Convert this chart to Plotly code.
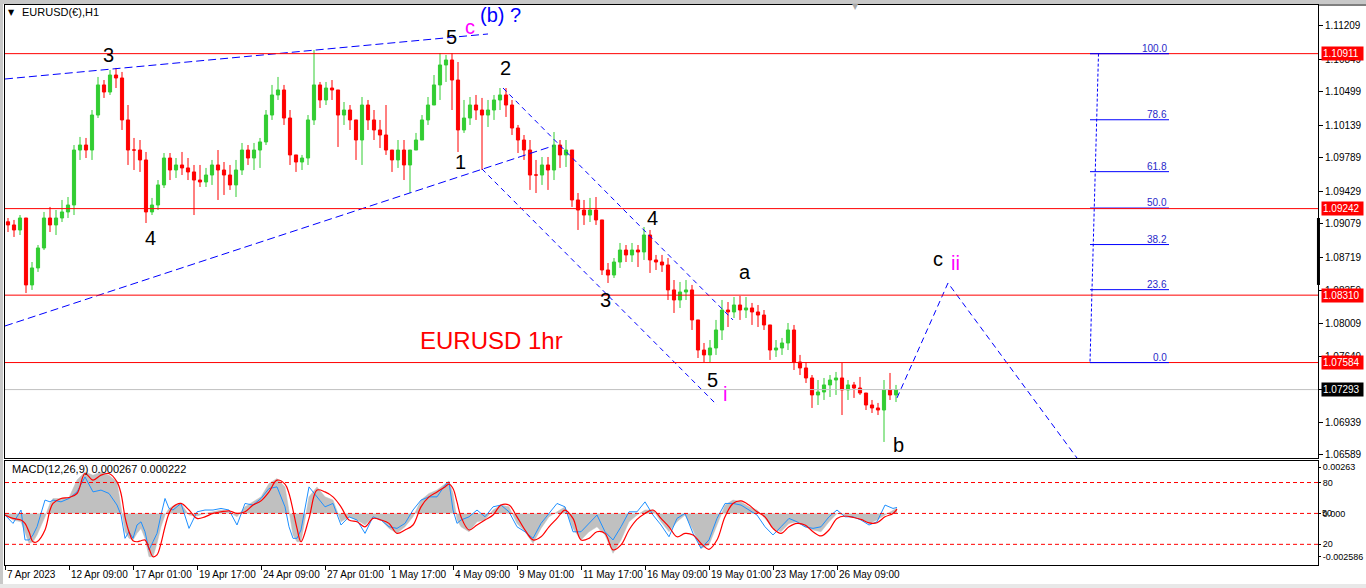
import plotly.graph_objects as go

# --- price data: one candle per 6 H1 bars, x = hour index from 7 Apr 2023 ---
BAR_STEP = 6
first_open = 1.09100

highs = [
    1.09141, 1.09120, 1.09173, 1.09141, 1.08667, 1.08850, 1.09206, 1.09260, 1.09227, 1.09335,
    1.09367, 1.09927, 1.10014, 1.10003, 1.10304, 1.10660, 1.10627, 1.10735, 1.10757, 1.10714,
    1.10358, 1.10003, 1.09981, 1.09852, 1.09357, 1.09550, 1.09841, 1.09841, 1.09787, 1.09852,
    1.09787, 1.09712, 1.09712, 1.09680, 1.09766, 1.09873, 1.09744, 1.09712, 1.09766, 1.09949,
    1.09927, 1.09949, 1.10003, 1.10304, 1.10574, 1.10660, 1.10574, 1.10304, 1.09820, 1.09820,
    1.10250, 1.10950, 1.10606, 1.10606, 1.10627, 1.10466, 1.10390, 1.10358, 1.10197, 1.10444,
    1.10412, 1.10304, 1.10197, 1.10358, 1.09873, 1.09981, 1.09981, 1.09873, 1.10057, 1.10250,
    1.10444, 1.10681, 1.10918, 1.10897, 1.10918, 1.10821, 1.10412, 1.10444, 1.10466, 1.10434,
    1.10412, 1.10466, 1.10541, 1.10541, 1.10412, 1.10143, 1.10035, 1.09981, 1.09766, 1.09798,
    1.09798, 1.10067, 1.09981, 1.09981, 1.09873, 1.09410, 1.09335, 1.09357, 1.09367, 1.09120,
    1.08656, 1.08710, 1.08872, 1.08850, 1.08872, 1.08850, 1.09044, 1.09012, 1.08743, 1.08743,
    1.08710, 1.08473, 1.08452, 1.08473, 1.08420, 1.08043, 1.07795, 1.07827, 1.08043, 1.08258,
    1.08236, 1.08290, 1.08301, 1.08290, 1.08226, 1.08204, 1.08150, 1.07989, 1.07827, 1.07849,
    1.08010, 1.07989, 1.07666, 1.07590, 1.07450, 1.07396, 1.07418, 1.07450, 1.07483, 1.07579,
    1.07396, 1.07375, 1.07429, 1.07256, 1.07181, 1.07149, 1.07396, 1.07472, 1.07343,
]
lows = [
    1.08990, 1.08937, 1.08958, 1.08333, 1.08366, 1.08560, 1.08796, 1.08990, 1.08958, 1.09098,
    1.09141, 1.09173, 1.09766, 1.09787, 1.09766, 1.10218, 1.10434, 1.10466, 1.10541, 1.10089,
    1.09712, 1.09658, 1.09637, 1.09087, 1.09173, 1.09227, 1.09464, 1.09550, 1.09572, 1.09604,
    1.09550, 1.09173, 1.09475, 1.09475, 1.09497, 1.09335, 1.09389, 1.09443, 1.09367, 1.09604,
    1.09712, 1.09658, 1.09680, 1.09927, 1.10197, 1.10412, 1.10143, 1.09712, 1.09637, 1.09658,
    1.09712, 1.10143, 1.10326, 1.10358, 1.10412, 1.09906, 1.10143, 1.10089, 1.09766, 1.09712,
    1.10089, 1.09981, 1.09895, 1.09820, 1.09637, 1.09680, 1.09550, 1.09410, 1.09873, 1.09981,
    1.10143, 1.10358, 1.10412, 1.10606, 1.10304, 1.09852, 1.10057, 1.10143, 1.10197, 1.09658,
    1.10121, 1.10197, 1.10304, 1.10229, 1.10035, 1.09841, 1.09766, 1.09443, 1.09410, 1.09497,
    1.09443, 1.09550, 1.09680, 1.09690, 1.09260, 1.09012, 1.09066, 1.09098, 1.09066, 1.08527,
    1.08441, 1.08495, 1.08603, 1.08667, 1.08667, 1.08613, 1.08689, 1.08549, 1.08581, 1.08560,
    1.08258, 1.08118, 1.08172, 1.08258, 1.07935, 1.07633, 1.07590, 1.07590, 1.07666, 1.07827,
    1.07967, 1.08064, 1.08043, 1.08064, 1.07989, 1.07967, 1.07935, 1.07612, 1.07644, 1.07666,
    1.07719, 1.07504, 1.07450, 1.07364, 1.07095, 1.07127, 1.07181, 1.07213, 1.07235, 1.07019,
    1.07181, 1.07203, 1.07235, 1.07073, 1.07041, 1.07019, 1.06729, 1.07181, 1.07159,
]
closes = [
    1.09066, 1.09012, 1.09141, 1.08420, 1.08603, 1.08818, 1.09141, 1.09066, 1.09141, 1.09206,
    1.09281, 1.09873, 1.09927, 1.09873, 1.10250, 1.10574, 1.10498, 1.10681, 1.10649, 1.10197,
    1.09873, 1.09873, 1.09766, 1.09206, 1.09281, 1.09497, 1.09787, 1.09658, 1.09712, 1.09680,
    1.09637, 1.09550, 1.09529, 1.09604, 1.09712, 1.09658, 1.09604, 1.09497, 1.09658, 1.09873,
    1.09787, 1.09873, 1.09960, 1.10250, 1.10466, 1.10520, 1.10218, 1.09820, 1.09744, 1.09787,
    1.10197, 1.10574, 1.10412, 1.10541, 1.10520, 1.10250, 1.10304, 1.10197, 1.09981, 1.10358,
    1.10197, 1.10089, 1.10035, 1.09873, 1.09766, 1.09873, 1.09712, 1.09873, 1.09981, 1.10197,
    1.10358, 1.10574, 1.10789, 1.10843, 1.10627, 1.10089, 1.10218, 1.10358, 1.10304, 1.10250,
    1.10304, 1.10412, 1.10466, 1.10358, 1.10110, 1.09981, 1.09873, 1.09604, 1.09604, 1.09712,
    1.09658, 1.09927, 1.09820, 1.09873, 1.09335, 1.09227, 1.09173, 1.09227, 1.09120, 1.08581,
    1.08527, 1.08667, 1.08796, 1.08743, 1.08796, 1.08775, 1.08958, 1.08689, 1.08667, 1.08635,
    1.08366, 1.08258, 1.08344, 1.08366, 1.08043, 1.07719, 1.07666, 1.07741, 1.07935, 1.08150,
    1.08129, 1.08204, 1.08150, 1.08172, 1.08129, 1.08096, 1.07989, 1.07719, 1.07741, 1.07795,
    1.07935, 1.07590, 1.07526, 1.07418, 1.07235, 1.07267, 1.07343, 1.07396, 1.07418, 1.07289,
    1.07343, 1.07310, 1.07256, 1.07127, 1.07095, 1.07073, 1.07289, 1.07235, 1.07293,
]

# --- MACD panel, sampled at these bar indices ---
macd_bar = [
    0, 8, 16, 20, 24, 28, 32, 40, 45, 48, 56, 64, 72, 80, 88, 96, 104, 112, 116, 120,
    124, 128, 132, 136, 140, 144, 148, 152, 156, 160, 164, 168, 176, 184, 192, 200, 208, 216, 224, 232,
    240, 248, 256, 264, 272, 280, 284, 288, 292, 296, 304, 312, 320, 328, 336, 344, 352, 360, 368, 376,
    384, 392, 400, 408, 416, 424, 432, 440, 444, 448, 452, 456, 464, 472, 480, 488, 496, 504, 512, 520,
    528, 536, 544, 552, 560, 568, 576, 584, 592, 600, 608, 616, 624, 632, 640, 648, 656, 664, 672, 680,
    688, 696, 704, 712, 720, 728, 736, 744, 752, 760, 768, 776, 784, 792, 800, 808, 816, 824, 832, 840,
    848, 856, 864, 872, 880, 888, 892,
]
macd_hist = [
    -0.00008, -0.00033, -0.00042, -0.00092, -0.00150, -0.00142, -0.00108, -0.00017, 0.00050, 0.00075,
    0.00075, 0.00080, 0.00167, 0.00208, 0.00192, 0.00208, 0.00192, 0.00158, 0.00033, -0.00092,
    -0.00125, -0.00133, -0.00100, -0.00075, -0.00125, -0.00217, -0.00217, -0.00150, -0.00067, -0.00008,
    0.00025, 0.00037, 0.00050, -0.00008, -0.00013, 0.00000, 0.00008, 0.00017, 0.00008, -0.00017,
    0.00033, 0.00058, 0.00083, 0.00150, 0.00175, 0.00133, 0.00017, -0.00108, -0.00142, -0.00142,
    0.00083, 0.00133, 0.00083, 0.00067, -0.00042, -0.00017, -0.00033, -0.00058, -0.00017, -0.00033,
    -0.00075, -0.00100, -0.00067, -0.00017, 0.00067, 0.00100, 0.00117, 0.00150, 0.00163, 0.00100,
    -0.00033, -0.00067, -0.00092, -0.00042, -0.00033, 0.00017, 0.00042, 0.00033, -0.00050, -0.00092,
    -0.00150, -0.00075, -0.00017, 0.00008, 0.00033, -0.00075, -0.00133, -0.00092, -0.00067, -0.00108,
    -0.00200, -0.00133, -0.00042, -0.00008, 0.00017, 0.00017, -0.00042, -0.00092, -0.00042, -0.00008,
    -0.00083, -0.00175, -0.00158, -0.00058, 0.00042, 0.00067, 0.00058, 0.00033, 0.00017, -0.00025,
    -0.00075, -0.00092, -0.00050, -0.00042, -0.00067, -0.00083, -0.00092, -0.00042, 0.00000, -0.00008,
    -0.00017, -0.00025, -0.00050, -0.00033, -0.00008, 0.00017, 0.00027,
]
macd_signal = [
    -0.00008, -0.00025, -0.00033, -0.00050, -0.00092, -0.00142, -0.00142, -0.00083, 0.00017, 0.00050,
    0.00075, 0.00080, 0.00100, 0.00200, 0.00167, 0.00192, 0.00200, 0.00158, 0.00100, -0.00017,
    -0.00092, -0.00137, -0.00142, -0.00137, -0.00133, -0.00175, -0.00217, -0.00208, -0.00150, -0.00067,
    0.00000, 0.00033, 0.00050, 0.00017, -0.00025, -0.00017, 0.00000, 0.00008, 0.00013, 0.00000,
    0.00008, 0.00042, 0.00063, 0.00108, 0.00167, 0.00147, 0.00100, 0.00017, -0.00075, -0.00142,
    -0.00025, 0.00117, 0.00108, 0.00083, 0.00033, -0.00033, -0.00042, -0.00067, -0.00025, -0.00033,
    -0.00050, -0.00100, -0.00083, -0.00058, 0.00033, 0.00083, 0.00108, 0.00133, 0.00147, 0.00125,
    0.00058, -0.00017, -0.00083, -0.00058, -0.00033, -0.00008, 0.00042, 0.00042, -0.00017, -0.00083,
    -0.00133, -0.00117, -0.00067, -0.00025, 0.00017, -0.00025, -0.00133, -0.00125, -0.00092, -0.00100,
    -0.00183, -0.00158, -0.00083, -0.00030, 0.00000, 0.00017, -0.00025, -0.00067, -0.00117, -0.00100,
    -0.00108, -0.00150, -0.00180, -0.00133, -0.00017, 0.00050, 0.00063, 0.00042, 0.00008, -0.00017,
    -0.00075, -0.00100, -0.00067, -0.00050, -0.00058, -0.00092, -0.00113, -0.00083, -0.00025, -0.00013,
    -0.00020, -0.00030, -0.00047, -0.00047, -0.00017, 0.00000, 0.00022,
]
macd_fast = [
    -0.00008, -0.00050, 0.00017, -0.00133, -0.00133, -0.00108, -0.00067, 0.00067, 0.00058, 0.00067,
    0.00058, 0.00075, 0.00108, 0.00183, 0.00108, 0.00117, 0.00100, 0.00042, -0.00008, -0.00125,
    -0.00092, -0.00125, -0.00058, -0.00042, -0.00092, -0.00183, -0.00142, -0.00100, -0.00008, 0.00075,
    0.00025, 0.00017, 0.00050, -0.00075, 0.00008, 0.00017, 0.00017, 0.00025, 0.00017, -0.00058,
    0.00050, 0.00042, 0.00075, 0.00125, 0.00133, 0.00033, -0.00067, -0.00125, -0.00125, -0.00083,
    0.00133, 0.00083, 0.00033, 0.00050, -0.00058, -0.00017, -0.00033, -0.00100, -0.00017, -0.00033,
    -0.00067, -0.00075, -0.00050, 0.00017, 0.00067, 0.00083, 0.00083, 0.00142, 0.00158, 0.00017,
    -0.00050, -0.00033, -0.00017, 0.00017, -0.00017, 0.00033, 0.00042, 0.00008, -0.00067, -0.00092,
    -0.00125, -0.00050, 0.00000, 0.00050, 0.00033, -0.00092, -0.00092, -0.00050, -0.00008, -0.00092,
    -0.00133, -0.00067, 0.00008, 0.00008, 0.00058, -0.00008, -0.00058, -0.00117, -0.00025, 0.00000,
    -0.00100, -0.00175, -0.00133, -0.00025, 0.00050, 0.00050, 0.00042, 0.00017, -0.00008, -0.00067,
    -0.00108, -0.00067, -0.00025, -0.00042, -0.00067, -0.00075, -0.00067, -0.00017, 0.00017, -0.00017,
    -0.00017, -0.00033, -0.00058, -0.00042, 0.00042, 0.00025, 0.00030,
]
macd_levels = [0.00155, 0.0, -0.00155]

# --- horizontal levels and drawn objects ---
red_levels = [1.10911, 1.09242, 1.08310, 1.07584]
bid_price = 1.07293
fib_names = ["100.0", "78.6", "61.8", "50.0", "38.2", "23.6", "0.0"]
fib_prices = [1.10911, 1.10199, 1.09640, 1.09248, 1.08855, 1.08369, 1.07584]
fib_span = [1085, 1164]
fib_stem_x = [1093.5, 1085]
fib_stem_y = [1.10911, 1.07584]

wedge_top_x, wedge_top_y = [0, 483], [1.10638, 1.11123]
wedge_bot_x, wedge_bot_y = [0, 548], [1.07978, 1.09917]
chan_top_x, chan_top_y = [498, 728], [1.10541, 1.08043]
chan_bot_x, chan_bot_y = [477, 712], [1.09669, 1.07127]
proj_x, proj_y = [892, 943, 1072], [1.07203, 1.08441, 1.06556]

wave_labels = [
    ("3", 103, 1.10897, "black"), ("4", 145, 1.08926, "black"),
    ("5", 446, 1.11091, "black"), ("c", 465, 1.11198, "#FF00FF"),
    ("(b) ?", 495, 1.11327, "#0000FF"), ("2", 500, 1.10757, "black"),
    ("1", 455, 1.09744, "black"), ("3", 600, 1.08258, "black"),
    ("4", 647, 1.09141, "black"), ("5", 707, 1.07396, "black"),
    ("i", 720, 1.07246, "#FF00FF"), ("a", 740, 1.08560, "black"),
    ("b", 893, 1.06696, "black"), ("c", 933, 1.08700, "black"),
    ("ii", 950, 1.08656, "#FF00FF"),
]

price_ticks = [1.11209, 1.10849, 1.10499, 1.10139, 1.09789, 1.09429, 1.09079,
               1.08719, 1.08359, 1.08009, 1.07649, 1.07289, 1.06939, 1.06589]
time_ticks = [0, 64, 128, 192, 256, 320, 384, 448, 512, 576, 640, 704, 768, 832]
time_labels = ["7 Apr 2023", "12 Apr 09:00", "17 Apr 01:00", "19 Apr 17:00", "24 Apr 09:00",
               "27 Apr 01:00", "1 May 17:00", "4 May 09:00", "9 May 01:00", "11 May 17:00",
               "16 May 09:00", "19 May 01:00", "23 May 17:00", "26 May 09:00"]

FONT = "Liberation Sans, Arial, sans-serif"
GREEN = "#32CD32"
RED = "#FF0000"
BLUE = "#0000FF"

opens = [first_open] + closes[:-1]
highs = [max(h, o, c) for h, o, c in zip(highs, opens, closes)]
lows = [min(l, o, c) for l, o, c in zip(lows, opens, closes)]
bar_x = [BAR_STEP * i + BAR_STEP / 2 for i in range(len(closes))]

fig = go.Figure()

fig.add_trace(go.Candlestick(
    x=bar_x, open=opens, high=highs, low=lows, close=closes,
    increasing=dict(line=dict(color=GREEN, width=1), fillcolor=GREEN),
    decreasing=dict(line=dict(color=RED, width=1), fillcolor=RED),
    whiskerwidth=0, showlegend=False, hoverinfo="skip",
    xaxis="x", yaxis="y",
))

for xs, ys, dash in [
    (wedge_top_x, wedge_top_y, "8px,4px"),
    (wedge_bot_x, wedge_bot_y, "8px,4px"),
    (chan_top_x, chan_top_y, "5px,4px"),
    (chan_bot_x, chan_bot_y, "5px,4px"),
    (proj_x, proj_y, "6px,4px"),
]:
    fig.add_trace(go.Scatter(
        x=xs, y=ys, mode="lines", line=dict(color=BLUE, width=1, dash=dash),
        showlegend=False, hoverinfo="skip", xaxis="x", yaxis="y",
    ))

fig.add_trace(go.Scatter(
    x=fib_stem_x, y=fib_stem_y, mode="lines",
    line=dict(color=BLUE, width=1, dash="3px,2px"),
    showlegend=False, hoverinfo="skip", xaxis="x", yaxis="y",
))

# MACD
fig.add_trace(go.Scatter(
    x=macd_bar, y=macd_hist, mode="lines", fill="tozeroy",
    fillcolor="#C0C0C0", line=dict(color="#C0C0C0", width=0.5),
    showlegend=False, hoverinfo="skip", xaxis="x2", yaxis="y2",
))
fig.add_trace(go.Scatter(
    x=macd_bar, y=macd_fast, mode="lines", line=dict(color="#1E90FF", width=1),
    showlegend=False, hoverinfo="skip", xaxis="x2", yaxis="y2",
))
fig.add_trace(go.Scatter(
    x=macd_bar, y=macd_signal, mode="lines", line=dict(color=RED, width=1.2, shape="spline"),
    showlegend=False, hoverinfo="skip", xaxis="x2", yaxis="y2",
))

shapes = []
for lvl in macd_levels:
    shapes.append(dict(type="line", xref="x2 domain", yref="y2", x0=0, x1=1, y0=lvl, y1=lvl,
                       line=dict(color=RED, width=1, dash="4px,3px")))
shapes.append(dict(type="line", xref="x domain", yref="y", x0=0, x1=1, y0=bid_price, y1=bid_price,
                   line=dict(color="#C0C0C0", width=1)))
for price in fib_prices:
    shapes.append(dict(type="line", xref="x", yref="y", x0=fib_span[0], x1=fib_span[1],
                       y0=price, y1=price, line=dict(color=BLUE, width=1)))
for lvl in red_levels:
    shapes.append(dict(type="line", xref="x domain", yref="y", x0=0, x1=1, y0=lvl, y1=lvl,
                       line=dict(color=RED, width=1)))
for price in [fib_prices[0], fib_prices[-1]]:
    shapes.append(dict(type="line", xref="x", yref="y", x0=fib_span[0], x1=fib_span[1],
                       y0=price, y1=price, line=dict(color=BLUE, width=1)))
# scroll marker on the price scale
shapes.append(dict(type="rect", xref="paper", yref="y", x0=0.9992, x1=1.0015,
                   y0=1.08420, y1=1.09141, fillcolor="black", line=dict(width=0)))
# window chrome
shapes.append(dict(type="rect", xref="paper", yref="paper", x0=-0.004, x1=-0.0015,
                   y0=-0.05, y1=1.01, fillcolor="#C8C8C8", line=dict(width=0)))
shapes.append(dict(type="rect", xref="paper", yref="paper", x0=-0.004, x1=1.04,
                   y0=1.002, y1=1.01, fillcolor="#C8C8C8", line=dict(width=0)))
shapes.append(dict(type="line", xref="paper", yref="paper", x0=1, x1=1.04, y0=1, y1=1,
                   line=dict(color="black", width=1)))
shapes.append(dict(type="rect", xref="paper", yref="paper", x0=-0.004, x1=1.04,
                   y0=-0.04, y1=-0.032, fillcolor="#E8E8E8", line=dict(width=0)))

ann = []
for text, bx, py, color in wave_labels:
    ann.append(dict(x=bx, y=py, xref="x", yref="y", text=text, showarrow=False,
                    font=dict(family=FONT, size=20, color=color)))
ann.append(dict(x=486, y=1.07827, xref="x", yref="y", text="EURUSD 1hr", showarrow=False,
                font=dict(family=FONT, size=24, color=RED)))
for name, price in zip(fib_names, fib_prices):
    ann.append(dict(x=fib_span[1], y=price, xref="x", yref="y", text=name, showarrow=False,
                    xanchor="right", yanchor="bottom", yshift=-2,
                    font=dict(family=FONT, size=10, color="#2828C8")))
for lvl in red_levels:
    ann.append(dict(x=1, y=lvl, xref="paper", yref="y", text=f"{lvl:.5f}", showarrow=False,
                    xanchor="left", xshift=3, bgcolor=RED, borderpad=1, width=39, align="left",
                    font=dict(family=FONT, size=10, color="white")))
ann.append(dict(x=1, y=bid_price, xref="paper", yref="y", text=f"{bid_price:.5f}", showarrow=False,
                xanchor="left", xshift=3, bgcolor="black", borderpad=1, width=39, align="left",
                font=dict(family=FONT, size=10, color="white")))
for t, lab in zip(time_ticks, time_labels):
    ann.append(dict(x=t, y=0, xref="x2", yref="paper", text=lab, showarrow=False,
                    xanchor="left", yanchor="top", yshift=-1,
                    font=dict(family=FONT, size=10, color="black")))
ann.append(dict(x=0.0046, y=0.9875, xref="paper", yref="paper", text="▼", showarrow=False,
                xanchor="center", yanchor="middle",
                font=dict(family="DejaVu Sans", size=8, color="black")))
ann.append(dict(x=0.0114, y=0.9875, xref="paper", yref="paper", text="EURUSD(€),H1",
                showarrow=False, xanchor="left", yanchor="middle",
                font=dict(family=FONT, size=11, color="black")))
ann.append(dict(x=850, y=1.11414, xref="x", yref="y", text="▼", showarrow=False,
                font=dict(family="DejaVu Sans", size=8, color="#A8A8A8")))
ann.append(dict(x=0.0038, y=0.1729, xref="paper", yref="paper",
                text="MACD(12,26,9) 0.000267 0.000222", showarrow=False,
                xanchor="left", yanchor="middle",
                font=dict(family=FONT, size=11, color="black")))
ann.append(dict(x=1, y=0.0, xref="paper", yref="y2", text="50", showarrow=False,
                xanchor="left", yanchor="middle", xshift=2,
                font=dict(family=FONT, size=9, color="black")))

fig.update_layout(
    width=1366, height=588,
    margin=dict(l=5, r=48, t=5, b=22),
    paper_bgcolor="white", plot_bgcolor="white",
    font=dict(family=FONT, size=10, color="black"),
    showlegend=False, boxgap=0.25,
    xaxis=dict(domain=[0, 1], range=[0, 1313], anchor="y", showticklabels=False, ticks="",
               showgrid=False, zeroline=False, showline=True, mirror=True, linecolor="black",
               rangeslider=dict(visible=False), automargin=False),
    yaxis=dict(domain=[0.1925, 1], range=[1.06556, 1.11435], side="right", anchor="x",
               tickvals=price_ticks, ticktext=[f"{v:.5f}" for v in price_ticks],
               ticks="outside", ticklen=4, tickcolor="black", showgrid=False, zeroline=False,
               showline=True, mirror=True, linecolor="black", automargin=False,
               tickfont=dict(family=FONT, size=10, color="black")),
    xaxis2=dict(domain=[0, 1], range=[0, 1313], anchor="y2", tickvals=time_ticks,
                showticklabels=False, ticks="outside", ticklen=4, tickcolor="black",
                showgrid=False, zeroline=False, showline=True, mirror=True, linecolor="black",
                automargin=False),
    yaxis2=dict(domain=[0.0018, 0.1872], range=[-0.002586, 0.00263], side="right", anchor="x2",
                tickvals=[0.00232, 0.00155, 0.0, -0.00155, -0.00218],
                ticktext=["0.00263", "80", "0.000", "20", "-0.002586"],
                ticks="outside", ticklen=2, tickcolor="black", showgrid=False, zeroline=False,
                showline=True, mirror=True, linecolor="black", automargin=False,
                tickfont=dict(family=FONT, size=9, color="black")),
    shapes=shapes,
    annotations=ann,
)

# drop the page's default 8px body margin so the chart sits at the window origin
fig.write_html(
    "out.html",
    config={"displayModeBar": False},
    post_script="document.body.style.margin='0px';document.body.style.overflow='hidden';",
)
